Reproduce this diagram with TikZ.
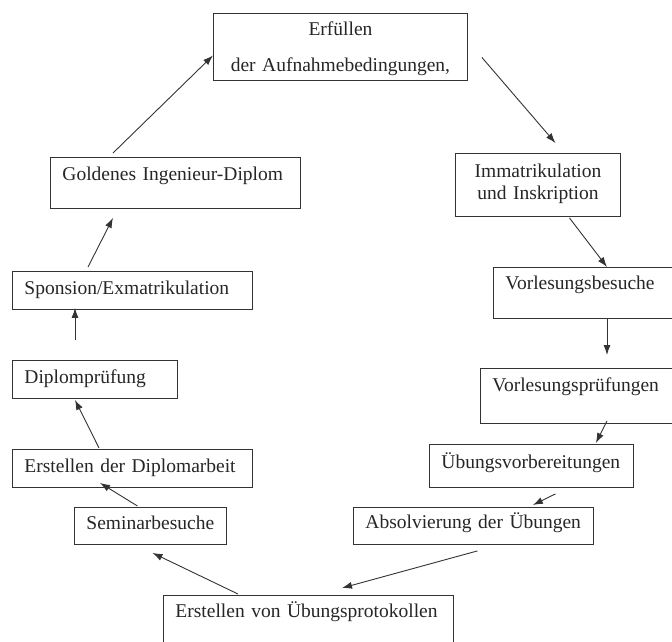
\documentclass[tikz,border=0pt]{standalone}
\usepackage{fontspec}
\setmainfont{Liberation Serif}
\usetikzlibrary{arrows.meta}
\hyphenpenalty=10000
\exhyphenpenalty=10000
\tikzset{
  box/.style={draw=black!80, line width=0.9pt, anchor=north west, inner xsep=12pt, inner ysep=0pt, align=left, text=black!85},
  pil/.style={-{Latex[length=10pt,width=7pt]}, line width=0.9pt, draw=black!80},
}
\begin{document}
\begin{tikzpicture}[x=1pt,y=-1pt,font=\fontsize{19.5}{22}\selectfont]
  \useasboundingbox (0,0) rectangle (672,641);
  % boxes, clockwise from the top
  \node[box, align=center, text width=230pt, text height=22pt, text depth=45pt] (erf) at (213,13) {Erfüllen\\[14pt]der Aufnahmebedingungen,};
  \node[box, align=center, text width=141pt, text height=24pt, text depth=39pt] (immat) at (455,153) {Immatrikulation\\und Inskription};
  \node[box, text width=173pt, text height=22pt, text depth=29pt] (vbes) at (493,267) {Vorlesungsbesuche};
  \node[box, text width=186pt, text height=23pt, text depth=32pt] (vpru) at (480,368) {Vorlesungsprüfungen};
  \node[box, text width=180pt, text height=24pt, text depth=19pt] (uvor) at (429,444) {Übungsvorbereitungen};
  \node[box, text width=216pt, text height=21pt, text depth=16pt] (absol) at (353,507) {Absolvierung der Übungen};
  \node[box, text width=266pt, text height=22pt, text depth=45pt] (eprot) at (163,595) {Erstellen von Übungsprotokollen};
  \node[box, text width=128pt, text height=22pt, text depth=15pt] (semi) at (74,507) {Seminarbesuche};
  \node[box, text width=216pt, text height=23pt, text depth=15pt] (edipl) at (12,449) {Erstellen der Diplomarbeit};
  \node[box, text width=141pt, text height=23pt, text depth=15pt] (dpru) at (12,360) {Diplomprüfung};
  \node[box, text width=216pt, text height=23pt, text depth=15pt] (spon) at (12,271) {Sponsion/Exmatrikulation};
  \node[box, text width=226pt, text height=23pt, text depth=28pt] (gold) at (50,157) {Goldenes Ingenieur-Diplom};
  % arrows
  \draw[pil] ([shift={(14,10.5)}]erf.east) -- ([shift={(17.5,-10)}]immat.north);
  \draw[pil] ([shift={(31.5,1)}]immat.south) -- ([shift={(114,0)}]vbes.north west);
  \draw[pil] ([shift={(114,0)}]vbes.south west) -- ([shift={(127,-13)}]vpru.north west);
  \draw[pil] ([shift={(127,-3)}]vpru.south west) -- ([shift={(-38,-1)}]uvor.north east);
  \draw[pil] ([shift={(24,6)}]uvor.south) -- ([shift={(-61,-2)}]absol.north east);
  \draw[pil] ([shift={(4,6)}]absol.south) -- ([shift={(179,-7)}]eprot.north west);
  \draw[pil] ([shift={(75,-1)}]eprot.north west) -- ([shift={(2,8)}]semi.south);
  \draw[pil] ([shift={(-13,-1)}]semi.north) -- ([shift={(88,-5)}]edipl.south west);
  \draw[pil] ([shift={(87,-1)}]edipl.north west) -- ([shift={(63,1)}]dpru.south west);
  \draw[pil] ([shift={(63,-20)}]dpru.north west) -- ([shift={(63,-2)}]spon.south west);
  \draw[pil] ([shift={(76,-4)}]spon.north west) -- ([shift={(63,9)}]gold.south west);
  \draw[pil] ([shift={(63,-4)}]gold.north west) -- ([shift={(0,8.5)}]erf.west);
\end{tikzpicture}
\end{document}
